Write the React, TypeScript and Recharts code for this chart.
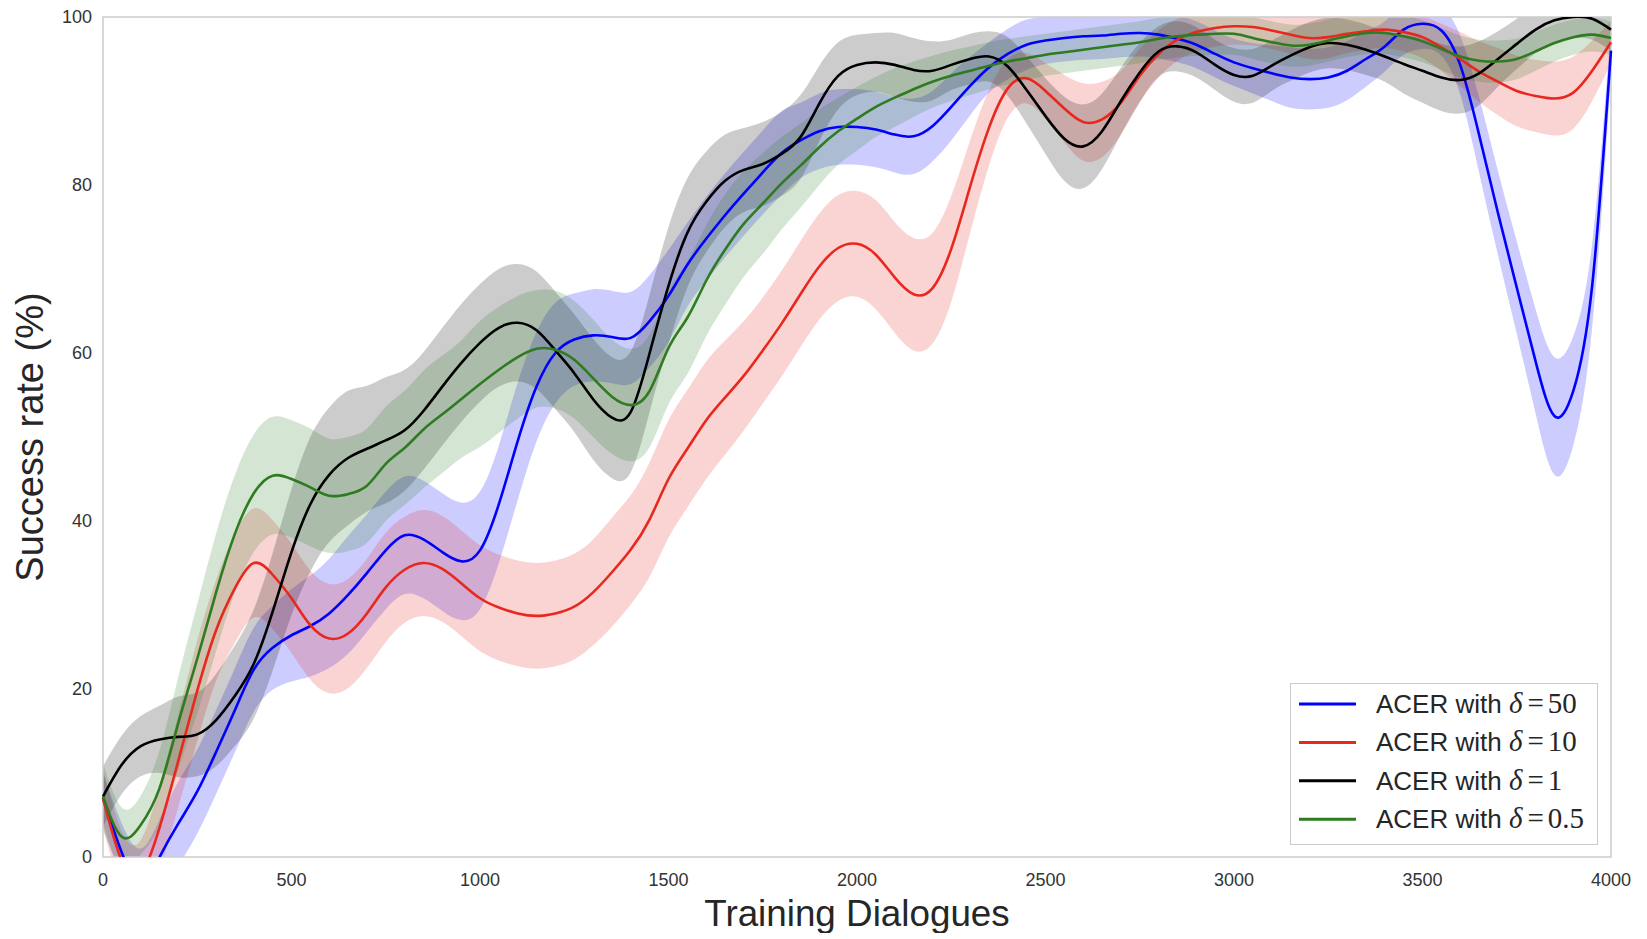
import React from 'react';
import { ComposedChart, Area, Line, XAxis, YAxis, ReferenceArea, Legend, Label } from 'recharts';

const FONT = '"Liberation Sans", Arial, Helvetica, sans-serif';
const SERIF = '"Liberation Serif", "DejaVu Serif", serif';

const dialogues = [
  0, 50, 100, 150, 200, 250, 300, 350, 400, 450,
  500, 550, 600, 650, 700, 750, 800, 850, 900, 950,
  1000, 1050, 1100, 1150, 1200, 1250, 1300, 1350, 1400, 1450,
  1500, 1550, 1600, 1650, 1700, 1750, 1800, 1850, 1900, 1950,
  2000, 2050, 2100, 2150, 2200, 2250, 2300, 2350, 2400, 2450,
  2500, 2550, 2600, 2650, 2700, 2750, 2800, 2850, 2900, 2950,
  3000, 3050, 3100, 3150, 3200, 3250, 3300, 3350, 3400, 3450,
  3500, 3550, 3600, 3650, 3700, 3750, 3800, 3850, 3900, 3950,
  4000,
];

// ACER with delta = 50 (blue)
const blueMean = [
  7, 0.5, -3, 0, 4, 7.8, 12.5, 17.5, 22.3, 24.9,
  26.4, 27.5, 29, 31.2, 33.8, 36.5, 38.3, 37.8, 36.3, 35.2,
  36.5, 42, 49.5, 56, 60, 61.6, 62.1, 61.9, 61.8, 63.8,
  66.8, 70.5, 73.6, 76.4, 79, 81.5, 83.8, 85.3, 86.4, 86.9,
  86.9, 86.6, 86, 85.8, 87, 89.3, 91.8, 94, 95.6, 96.7,
  97.2, 97.5, 97.7, 97.8, 98, 98.1, 97.9, 97.4, 96.7, 95.6,
  94.6, 93.9, 93.3, 92.8, 92.6, 92.8, 93.6, 95, 96.5, 98.5,
  99.2, 98.4, 94.3, 86, 76.7, 67.8, 59, 52.5, 55.5, 68,
  96,
];
const blueSpread = [
  3, 3.5, 4, 4.5, 5, 5, 5, 5, 5, 5,
  5.5, 6, 6.5, 7, 7, 7, 7, 7, 7, 7,
  7, 7, 7, 6.5, 6, 5.5, 5.5, 5.5, 5.5, 5.5,
  5.5, 5, 5, 5, 5, 5, 5, 4.5, 4.5, 4.5,
  4.5, 4.5, 4.5, 4.5, 4.2, 4, 3.5, 3, 3, 3,
  2.8, 2.8, 2.8, 2.8, 2.8, 2.8, 2.8, 2.8, 2.8, 2.8,
  2.8, 3, 3.3, 3.6, 3.6, 3.6, 3.5, 3.3, 3, 3,
  3, 3, 3.5, 4.5, 5, 5.5, 6.2, 7, 6.5, 5,
  3,
];

// ACER with delta = 10 (red)
const redMean = [
  7, -0.5, -2, 3.5, 11.5, 19.8, 27, 32, 35, 33.6,
  30.8, 27.6, 26, 26.6, 29, 32.1, 34.2, 35, 34.3, 32.6,
  30.8, 29.7, 29, 28.7, 29, 29.8, 31.5, 33.9, 36.6, 40.2,
  45, 48.6, 52, 54.7, 57.3, 60.3, 63.5, 67, 70.3, 72.5,
  73, 71.7, 69, 67, 67.7, 72.4, 79.8, 86.8, 91.5, 92.7,
  91.2, 89.1, 87.5, 87.8, 89.8, 93, 95.6, 97.3, 98.2, 98.7,
  98.9, 98.8, 98.4, 97.9, 97.5, 97.6, 98, 98.3, 98.5, 98.2,
  97.6, 96.4, 95, 93.5, 92.3, 91.2, 90.6, 90.3, 91, 93.6,
  97,
];
const redSpread = [
  3.5, 3.5, 4, 5, 5.5, 6, 6, 6.5, 6.5, 6.5,
  6.5, 6.5, 6.5, 6.5, 6.5, 6.5, 6.3, 6.3, 6.3, 6.3,
  6.3, 6.3, 6.3, 6.3, 6.3, 6.3, 6.3, 6.5, 6.5, 6.8,
  7, 7, 7, 6.8, 6.5, 6.3, 6.3, 6.3, 6.3, 6.3,
  6.3, 6.5, 6.6, 6.7, 6.6, 6.3, 5.5, 4.5, 3.5, 3,
  3.3, 4, 4.6, 4.5, 3.8, 3.2, 2.8, 2.5, 2.3, 2.2,
  2.2, 2.2, 2.2, 2.3, 2.5, 2.5, 2.3, 2.2, 2.2, 2.3,
  2.5, 2.8, 3.2, 3.6, 4, 4.2, 4.3, 4.4, 4.3, 3.6,
  2.5,
];

// ACER with delta = 1 (black)
const blackMean = [
  7.2, 11, 13.2, 14, 14.3, 14.6, 16.3, 19.2, 23, 29.2,
  36.3, 42, 45.5, 47.5, 48.6, 49.6, 50.8, 53.1, 56, 58.8,
  61.2, 63, 63.6, 62.7, 60.3, 57.6, 54.5, 52.3, 53, 60,
  68, 74.3, 78, 80.5, 81.8, 82.5, 83.7, 85.7, 89.7, 93,
  94.3, 94.6, 94.3, 93.7, 93.6, 94.3, 95, 95.3, 94.1, 91.3,
  88.2, 85.5, 84.6, 86.4, 90, 93.4, 95.9, 96.5, 95.8, 94.3,
  93.1, 93, 94.2, 95.4, 96.4, 96.9, 96.7, 96.1, 95.3, 94.4,
  93.6, 92.8, 92.5, 93.3, 95, 96.8, 98.5, 99.6, 100, 99.8,
  98.5,
];
const blackSpread = [
  3.6, 3.5, 3.6, 4, 4.8, 5, 5.5, 6, 6.5, 7,
  7.5, 8, 8, 8, 7.5, 7.5, 7.2, 7, 7, 7,
  7, 7, 7, 7, 7, 7, 7.2, 7.2, 7.2, 7,
  7, 6.5, 6, 5.5, 5, 5, 5, 5, 4.5, 4,
  3.6, 3.5, 3.8, 3.8, 3.5, 3, 3, 3, 3.5, 4,
  4.5, 5, 5, 4.5, 4, 3.5, 3, 3, 3, 3,
  3.2, 3.2, 3, 3, 3, 3, 3, 3, 3, 3.5,
  3.8, 4, 4, 3.8, 3.3, 3, 2.8, 2.6, 2.5, 2.5,
  2.5,
];

// ACER with delta = 0.5 (green)
const greenMean = [
  7.2, 2.4, 3.8, 8.2, 16, 23.6, 31.5, 38.5, 43.3, 45.4,
  45, 44, 43, 43.2, 44.2, 46.8, 48.7, 50.9, 52.7, 54.5,
  56.3, 58, 59.5, 60.5, 60.4, 59.2, 57, 54.8, 53.8, 55.5,
  60.6, 64.2, 68.6, 72.3, 75.4, 77.8, 80.2, 82.3, 84.5, 86.4,
  87.9, 89.3, 90.4, 91.4, 92.3, 93, 93.6, 94.2, 94.7, 95.1,
  95.5, 95.8, 96.1, 96.4, 96.7, 97, 97.4, 97.7, 97.9, 98,
  98, 97.5, 97, 96.6, 96.7, 97.2, 97.7, 98.1, 98.1, 97.7,
  97.1, 96.2, 95.3, 94.8, 94.7, 95, 95.9, 96.9, 97.6, 97.9,
  97.5,
];
const greenSpread = [
  4, 3.5, 3.5, 4.5, 5.5, 6.5, 7, 7, 7, 7,
  7, 7, 6.8, 6.8, 6.8, 6.8, 6.8, 7, 7, 7,
  7.5, 7.5, 7.3, 7, 7, 7, 7, 6.8, 6.7, 6.7,
  6.7, 6.7, 6.6, 6.6, 6.3, 6, 5.5, 5, 4.5, 4,
  3.8, 3.6, 3.5, 3.3, 3.1, 3, 2.9, 2.8, 2.7, 2.6,
  2.5, 2.5, 2.5, 2.5, 2.5, 2.5, 2.5, 2.5, 2.5, 2.5,
  2.5, 2.5, 2.5, 2.5, 2.5, 2.5, 2.5, 2.5, 2.5, 2.5,
  2.5, 2.5, 2.5, 2.5, 2.5, 2.4, 2.3, 2.2, 2.1, 2,
  2,
];

const xTicks = [0, 500, 1000, 1500, 2000, 2500, 3000, 3500, 4000];
const yTicks = [0, 20, 40, 60, 80, 100];

const series = [
  { id: 'd50', text: 'ACER with ', delta: '50', color: '#0000ff', mean: blueMean, spread: blueSpread },
  { id: 'd10', text: 'ACER with ', delta: '10', color: '#e8281f', mean: redMean, spread: redSpread },
  { id: 'd1', text: 'ACER with ', delta: '1', color: '#000000', mean: blackMean, spread: blackSpread },
  { id: 'd05', text: 'ACER with ', delta: '0.5', color: '#2e7b22', mean: greenMean, spread: greenSpread },
];

const data = dialogues.map((x, i) => {
  const row: Record<string, any> = { x };
  series.forEach((s) => {
    row[s.id] = s.mean[i];
    row[s.id + 'Band'] = [s.mean[i] - s.spread[i], s.mean[i] + s.spread[i]];
  });
  return row;
});

const LegendBox = () => (
  <svg width={308} height={162} style={{ display: 'block' }}>
    <rect x={0.5} y={0.5} width={307} height={161} fill="#ffffff" stroke="#cccccc" strokeWidth={1} />
    {series.map((s, i) => {
      const cy = 21 + i * 38.4;
      return (
        <g key={s.id}>
          <line x1={9} x2={66} y1={cy} y2={cy} stroke={s.color} strokeWidth={3} />
          <text x={86} y={cy + 8.7} fontSize={26} fontFamily={FONT} fill="#262626">
            {s.text}
            <tspan fontFamily={SERIF} fontStyle="italic" fontSize={29}>δ</tspan>
            <tspan fontFamily={SERIF} fontSize={29} dx={5}>=</tspan>
            <tspan fontFamily={SERIF} fontSize={29} dx={4}>{s.delta}</tspan>
          </text>
        </g>
      );
    })}
  </svg>
);

const XTitle = (props: any) => {
  const vb = props.viewBox || { x: 95, y: 849, width: 1508, height: 76 };
  return (
    <text x={vb.x + vb.width / 2} y={vb.y + 69} textAnchor="middle" fontSize={36.8} fontFamily={FONT} fill="#262626">
      Training Dialogues
    </text>
  );
};

const YTitle = (props: any) => {
  const vb = props.viewBox || { x: 0, y: 9, width: 95, height: 840 };
  const cx = 35;
  const cy = vb.y + vb.height / 2;
  return (
    <text x={cx} y={cy} transform={`rotate(-90, ${cx}, ${cy})`} textAnchor="middle" fontSize={38} fontFamily={FONT} fill="#262626">
      Success rate (%)
    </text>
  );
};

export default function App() {
  return (
    <div style={{ width: 1639, height: 925, position: 'relative', fontFamily: FONT }}>
      <ComposedChart width={1639} height={925} data={data} margin={{ top: 9, right: 36, bottom: 0, left: 0 }}>
        <XAxis
          dataKey="x"
          type="number"
          domain={[0, 4000]}
          ticks={xTicks}
          interval={0}
          tickLine={false}
          axisLine={false}
          tickSize={0}
          tickMargin={16}
          height={76}
          tick={{ fontSize: 18, fill: '#333333', fontFamily: FONT }}
        >
          <Label content={<XTitle />} />
        </XAxis>
        <YAxis
          type="number"
          domain={[0, 100]}
          ticks={yTicks}
          allowDataOverflow
          interval={0}
          tickLine={false}
          axisLine={false}
          tickSize={0}
          tickMargin={11}
          width={95}
          tick={{ fontSize: 18, fill: '#333333', fontFamily: FONT }}
        >
          <Label content={<YTitle />} />
        </YAxis>
        {series.map((s) => (
          <Area
            key={s.id + 'Band'}
            dataKey={s.id + 'Band'}
            type="natural"
            stroke="none"
            fill={s.color}
            fillOpacity={0.2}
            isAnimationActive={false}
            activeDot={false}
            dot={false}
            legendType="none"
          />
        ))}
        {series.map((s) => (
          <Line
            key={s.id}
            dataKey={s.id}
            type="natural"
            stroke={s.color}
            strokeWidth={2.6}
            dot={false}
            activeDot={false}
            isAnimationActive={false}
          />
        ))}
        <ReferenceArea x1={0} x2={4000} y1={0} y2={100} fill="none" stroke="#cccccc" strokeWidth={1.5} ifOverflow="visible" />
        <Legend
          layout="vertical"
          align="center"
          verticalAlign="middle"
          wrapperStyle={{ left: 1282, top: 675, width: 308, height: 162, margin: 0, padding: 0 }}
          content={() => <LegendBox />}
        />
      </ComposedChart>
    </div>
  );
}
